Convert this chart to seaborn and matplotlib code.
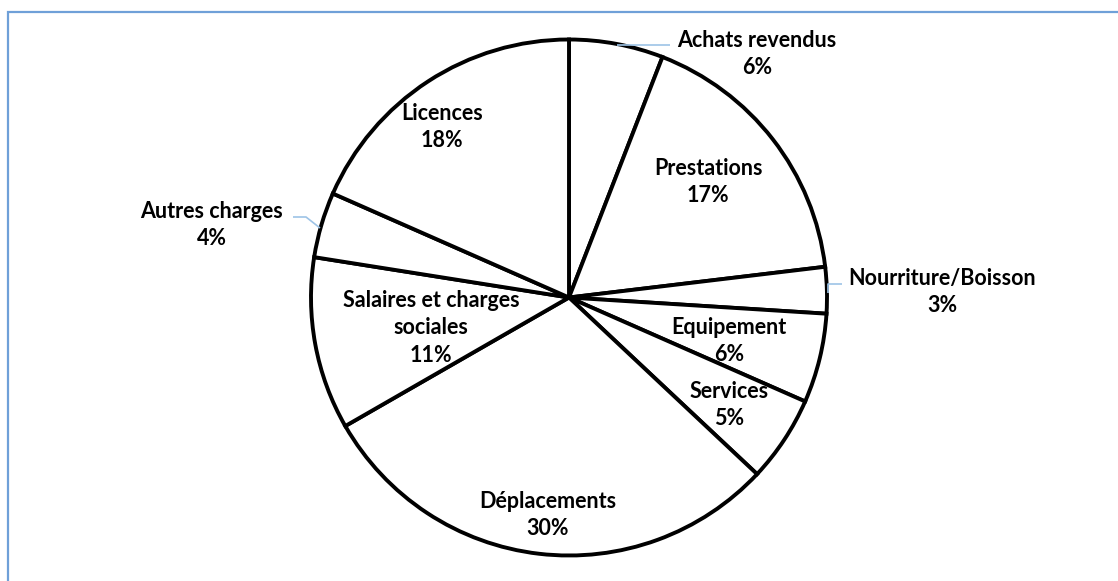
import matplotlib.pyplot as plt
import matplotlib.patches as mpatches
import numpy as np
import seaborn as sns

# data (labels show rounded percents)
categories = ["Achats revendus", "Prestations", "Nourriture/Boisson", "Equipement",
              "Services", "Déplacements", "Salaires et charges\nsociales",
              "Autres charges", "Licences"]
shares = [5.9, 17.2, 2.9, 5.6, 5.4, 29.7, 10.8, 4.1, 18.4]

# label layout in pixels (x, y of the text block centre), outside labels get a leader
label_pos = [(757, 54), (708, 182), (942, 292), (729, 341), (729, 405),
             (548, 515), (431, 328), (212, 225), (442, 127)]
leaders = {
    0: [(617, 45), (670, 45)],
    2: [(828, 293), (828, 284), (842, 284)],
    7: [(293, 217), (306, 217), (320, 228)],
}

W, H = 1118, 581
sns.set_theme(style="white")
plt.rcParams['font.family'] = ['Lato', 'DejaVu Sans']

fig = plt.figure(figsize=(W / 100, H / 100), dpi=100)
ax = fig.add_axes([0, 0, 1, 1])

def py(y):
    return H - y

cx, cy, r = 569, 297.5, 258
ax.pie(shares, startangle=90, counterclock=False, center=(cx, py(cy)), radius=r,
       colors=["white"] * len(shares),
       wedgeprops=dict(edgecolor="black", linewidth=2.8))

for i, (name, v) in enumerate(zip(categories, shares)):
    x, y = label_pos[i]
    ax.text(x, py(y), f"{name}\n{v:.0f}%", ha="center", va="center",
            fontsize=15.5, fontweight="bold", color="black", linespacing=1.4)

for pts in leaders.values():
    xs = [p[0] for p in pts]
    ys = [py(p[1]) for p in pts]
    ax.plot(xs, ys, color="#9dc3e6", linewidth=1.2, solid_capstyle="butt")

ax.set_xlim(0, W)
ax.set_ylim(0, H)
ax.set_aspect("auto")
ax.axis("off")

# chart area frame (only top and left edges fall inside the picture)
fig.patches.append(mpatches.Rectangle((8 / W, -0.1), 1.2, (H - 12) / H + 0.1,
                                      transform=fig.transFigure, fill=False,
                                      edgecolor="#6fa0d8", linewidth=1.6))

fig.savefig("out.png", dpi=100)
